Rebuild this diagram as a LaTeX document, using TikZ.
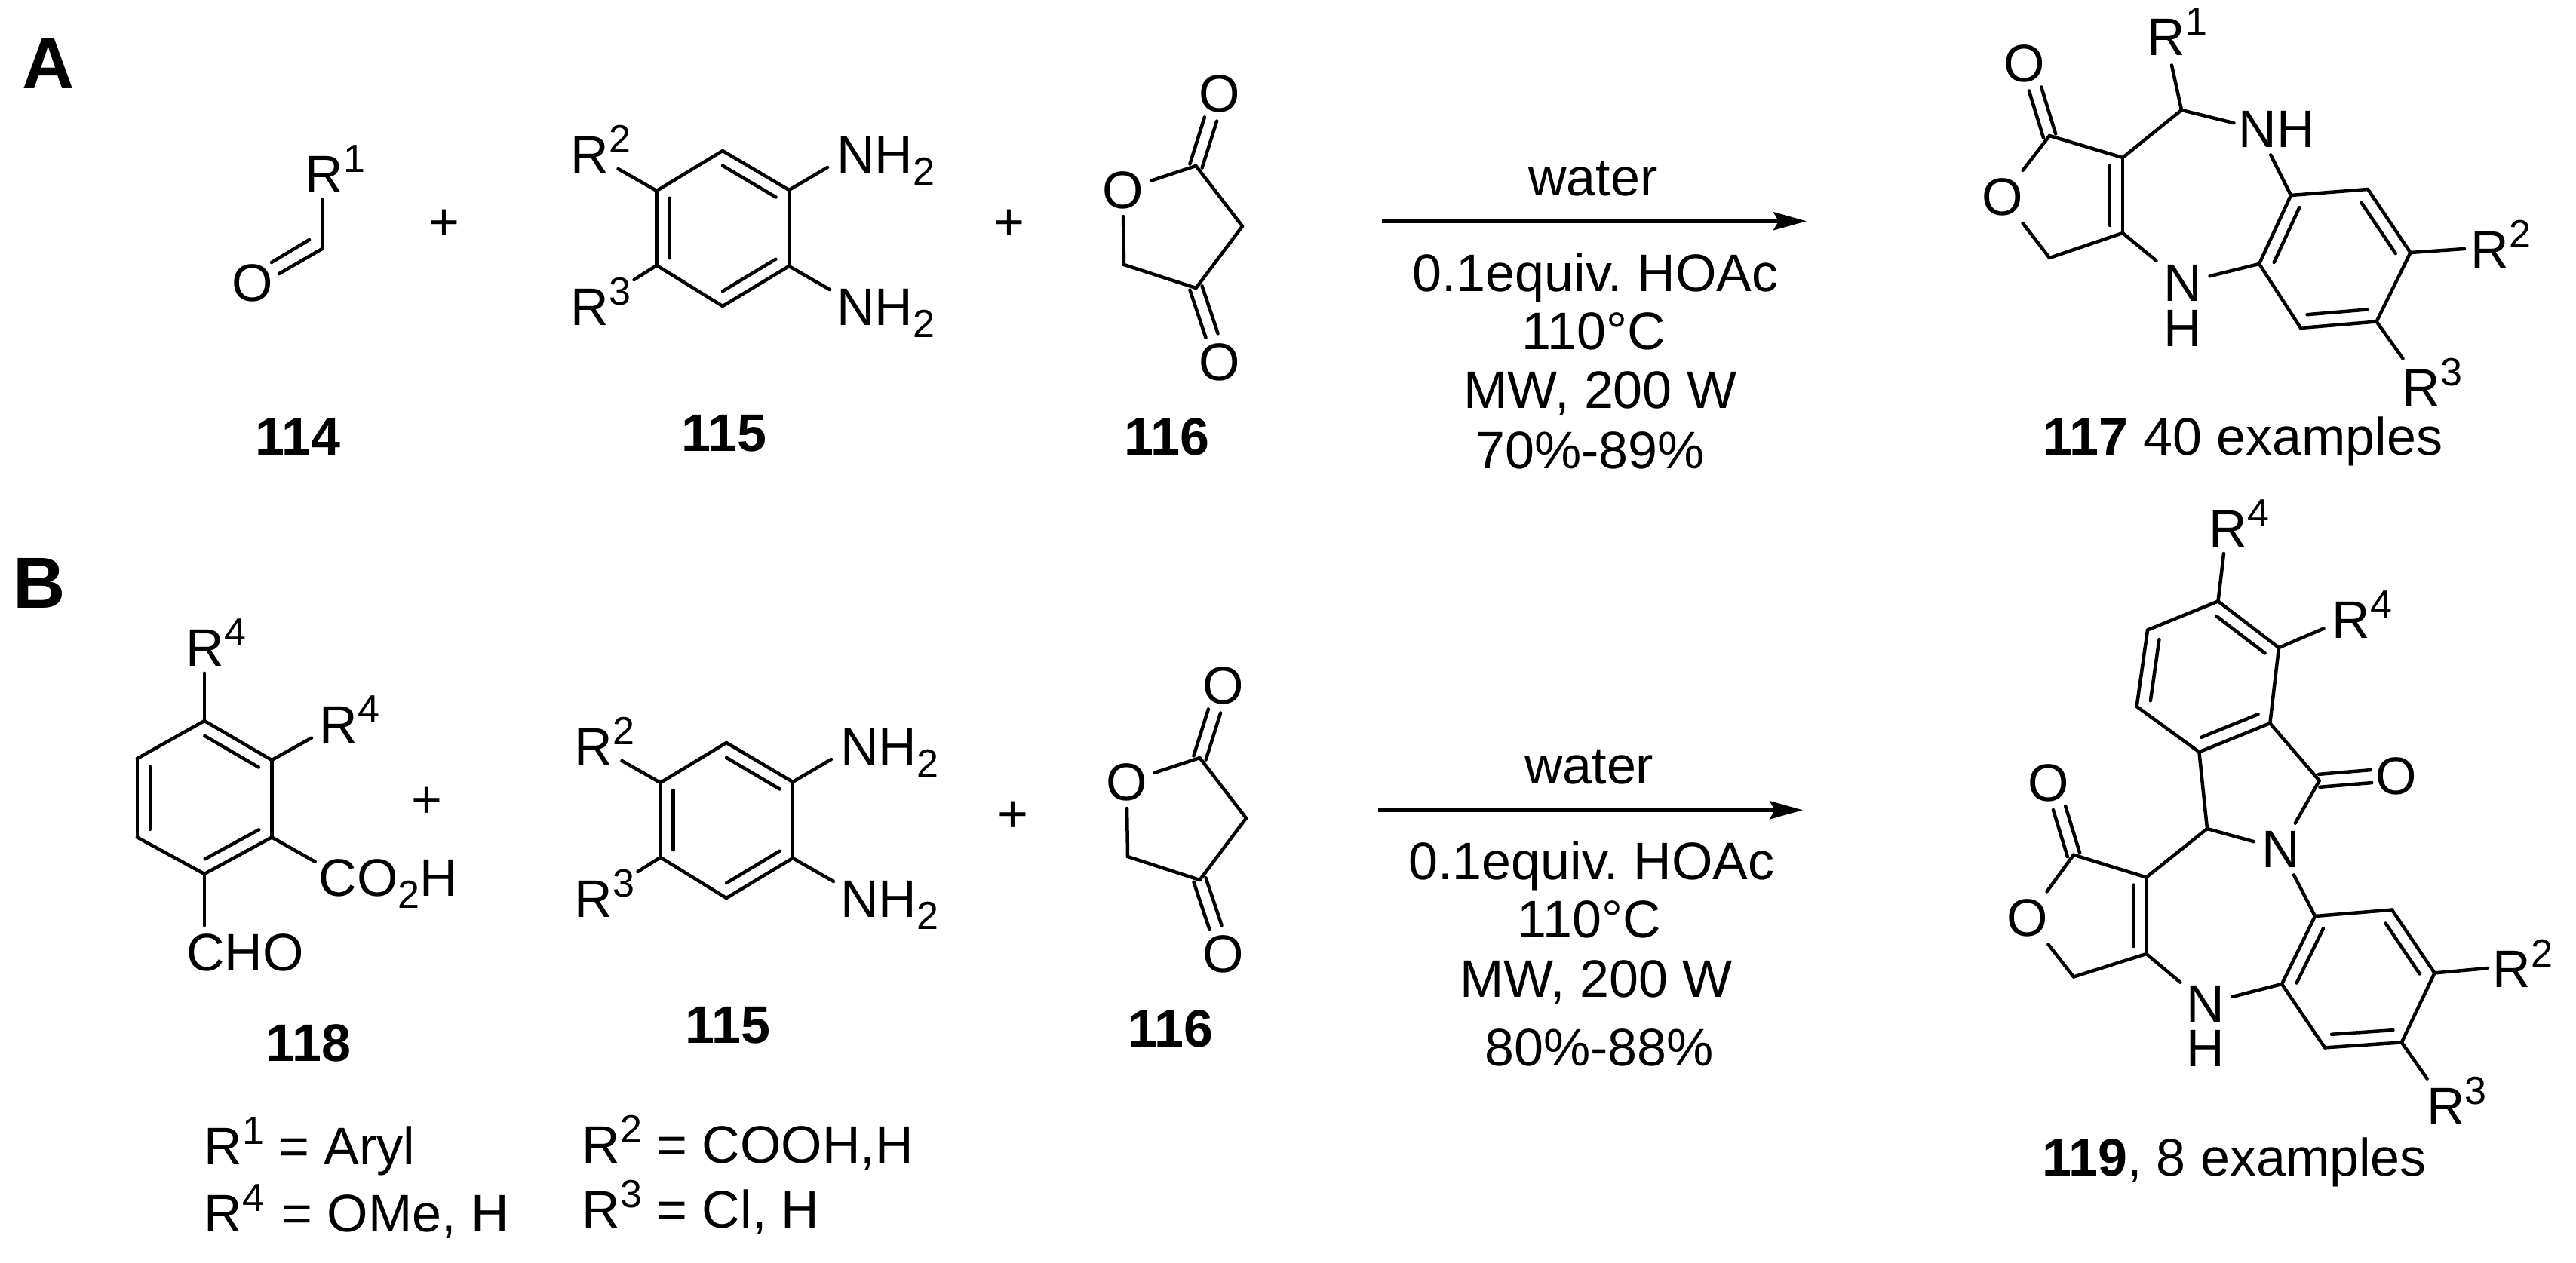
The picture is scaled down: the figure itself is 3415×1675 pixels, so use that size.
\documentclass[tikz,border=0pt]{standalone}
\usepackage{fontspec}
\setmainfont{Liberation Sans}
\usepackage{tikz}
\usetikzlibrary{arrows.meta,calc}
\frenchspacing
\def\supn#1{\raisebox{27pt}{\fontsize{52pt}{60pt}\selectfont #1}}
\def\subn#1{\raisebox{-16pt}{\fontsize{52pt}{60pt}\selectfont #1}}
\def\inbond#1#2{\draw ($(#1)!.1!(#2)!17pt!90:(#2)$) -- ($(#2)!.1!(#1)!-17pt!90:(#1)$);}
\def\dbo#1#2{\draw ($(#1)!8.5pt!90:(#2)$) -- ($(#2)!-8.5pt!90:(#1)$); \draw ($(#1)!-8.5pt!90:(#2)$) -- ($(#2)!8.5pt!90:(#1)$);}

\begin{document}
\begin{tikzpicture}[>={Stealth[width=24pt,length=44pt,inset=7pt]}, line width=4.5pt, line cap=round,
	txt/.style={inner sep=0pt, anchor=base west, font=\fontsize{70pt}{80pt}\selectfont},
	ctr/.style={txt, anchor=base},
	atom/.style={inner sep=8pt, anchor=center, font=\fontsize{70pt}{80pt}\selectfont},
	hatom/.style={atom, inner sep=0pt},
	panel/.style={inner sep=0pt, anchor=base west, font=\fontsize{96pt}{100pt}\selectfont\bfseries},
	rarrow/.style={->, line width=4.7pt, line cap=butt}]
		\useasboundingbox (0pt, 0pt) rectangle (3415pt, -1675pt);
		\draw (27.0pt, -118.0pt)node[panel](panelA){A};
		\draw (15.0pt, -806.0pt)node[panel](panelB){B};

		% 114
		\coordinate (ald1) at (427.0pt, -330.0pt);
		\coordinate (ald2) at (427.0pt, -264.0pt);
		\coordinate (ald3) at (370.0pt, -363.0pt);
		\coordinate (ald4) at (410.0pt, -318.0pt);
		\coordinate (ald5) at (360.0pt, -348.0pt);
		\draw (335.0pt, -375.0pt)node[atom](aldO){O};
		\draw (402.5pt, -255.0pt)node[txt](aldR){R\supn{1}};
		\draw (395.0pt, -603.0pt)node[ctr](n114){\bfseries 114};
		\draw (589.0pt, -298.0pt)node[hatom](plusA){+};
		\path (ald1) edge (ald2);
		\path (ald1) edge (ald3);
		\path (ald4) edge (ald5);

		% 115 and 116, the same in both rows
		\foreach \n/\sx/\sy in {A/0/0,B/5/785}{
		\begin{scope}[shift={(\sx pt,-\sy pt)}]
		\coordinate (\n dia1) at (870.5pt, -253.0pt);
		\coordinate (\n dia2) at (870.5pt, -352.0pt);
		\coordinate (\n dia3) at (958.0pt, -406.0pt);
		\coordinate (\n dia4) at (1046.0pt, -353.0pt);
		\coordinate (\n dia5) at (1046.0pt, -252.0pt);
		\coordinate (\n dia6) at (958.0pt, -200.0pt);
		\coordinate (\n dia7) at (819.5pt, -224.0pt);
		\coordinate (\n dia8) at (840.5pt, -371.0pt);
		\coordinate (\n dia9) at (1097.0pt, -222.0pt);
		\coordinate (\n dia10) at (1100.0pt, -384.0pt);
		\draw (754.5pt, -229.0pt)node[txt](\n diaR2){R\supn{2}};
		\draw (754.5pt, -431.0pt)node[txt](\n diaR3){R\supn{3}};
		\draw (1107.0pt, -229.0pt)node[txt](\n diaN1){NH\subn{2}};
		\draw (1107.0pt, -431.0pt)node[txt](\n diaN2){NH\subn{2}};
		\draw (960.0pt, -598.5pt)node[ctr](\n n115){\bfseries 115};
		\path (\n dia1) edge (\n dia2);
		\path (\n dia2) edge (\n dia3);
		\path (\n dia3) edge (\n dia4);
		\path (\n dia4) edge (\n dia5);
		\path (\n dia5) edge (\n dia6);
		\path (\n dia6) edge (\n dia1);
		\path (\n dia1) edge (\n dia7);
		\path (\n dia2) edge (\n dia8);
		\path (\n dia5) edge (\n dia9);
		\path (\n dia4) edge (\n dia10);
		\inbond{\n dia1}{\n dia2}
		\inbond{\n dia3}{\n dia4}
		\inbond{\n dia5}{\n dia6}

		\draw (1338.0pt, -298.0pt)node[hatom](\n plus){+};
		\coordinate (\n lac1) at (1585.5pt, -220.0pt);
		\coordinate (\n lac2) at (1647.0pt, -300.0pt);
		\coordinate (\n lac3) at (1585.5pt, -382.0pt);
		\coordinate (\n lac4) at (1490.0pt, -351.0pt);
		\coordinate (\n lac5) at (1605.0pt, -158.0pt);
		\coordinate (\n lac6) at (1606.5pt, -445.0pt);
		\draw (1488.5pt, -252.0pt)node[atom](\n lacO){O};
		\draw (1617.0pt, -124.5pt)node[hatom](\n lacO1){O};
		\draw (1617.0pt, -480.0pt)node[hatom](\n lacO2){O};
		\draw (1546.5pt, -603.0pt)node[ctr](\n n116){\bfseries 116};
		\path (\n lacO) edge (\n lac1);
		\path (\n lac1) edge (\n lac2);
		\path (\n lac2) edge (\n lac3);
		\path (\n lac3) edge (\n lac4);
		\path (\n lac4) edge (\n lacO);
		\dbo{\n lac1}{\n lac5}
		\dbo{\n lac3}{\n lac6}
		\end{scope}
		}

		% top arrow
		\coordinate (arrA0) at (1832.0pt, -293.3pt);
		\coordinate (arrA1) at (2395.0pt, -293.3pt);
		\path[rarrow] (arrA0) edge (arrA1);
		\draw (2112.0pt, -259.0pt)node[ctr](condA1){water};
		\draw (2115.0pt, -386.0pt)node[ctr](condA2){0.1equiv. HOAc};
		\draw (2113.0pt, -463.0pt)node[ctr](condA3){110°C};
		\draw (2121.5pt, -541.7pt)node[ctr](condA4){MW, 200 W};
		\draw (2108.0pt, -621.7pt)node[ctr](condA5){70\%-89\%};

		% 117
		\coordinate (pa1) at (2717.0pt, -180.0pt);
		\coordinate (pa2) at (2717.0pt, -342.0pt);
		\coordinate (pa3) at (2814.0pt, -309.0pt);
		\coordinate (pa4) at (2814.0pt, -209.0pt);
		\coordinate (pa5) at (2892.0pt, -146.0pt);
		\coordinate (pa6) at (2698.0pt, -118.0pt);
		\coordinate (pa7) at (2879.0pt, -86.5pt);
		\coordinate (pa8) at (3267.0pt, -330.0pt);
		\coordinate (pa9) at (3185.5pt, -475.5pt);
		\coordinate (ra1) at (3037.0pt, -259.0pt);
		\coordinate (ra2) at (2995.0pt, -350.0pt);
		\coordinate (ra3) at (3050.0pt, -435.0pt);
		\coordinate (ra4) at (3150.5pt, -426.5pt);
		\coordinate (ra5) at (3195.5pt, -335.0pt);
		\coordinate (ra6) at (3139.0pt, -251.0pt);
		\draw (2684.0pt, -84.0pt)node[hatom](paO1){O};
		\draw (2654.6pt, -261.0pt)node[atom](paO2){O};
		\draw (2993.0pt, -171.0pt)node[atom, inner xsep=4pt](paN1){N};
		\draw (3044.0pt, -171.0pt)node[hatom](paH1){H};
		\draw (2894.0pt, -375.0pt)node[atom](paN2){N};
		\draw (2894.0pt, -435.0pt)node[hatom](paH2){H};
		\draw (2844.5pt, -74.0pt)node[txt](paR1){R\supn{1}};
		\draw (3273.5pt, -355.0pt)node[txt](paR2){R\supn{2}};
		\draw (3182.5pt, -538.0pt)node[txt](paR3){R\supn{3}};
		\draw (2973.5pt, -603.0pt)node[ctr](n117){{\bfseries 117} 40 examples};
		\path (paO2) edge (pa1);
		\path (pa1) edge (pa4);
		\path (pa4) edge (pa3);
		\path (pa3) edge (pa2);
		\path (pa2) edge (paO2);
		\path (pa4) edge (pa5);
		\path (pa5) edge (pa7);
		\path (pa5) edge (paN1);
		\path (paN1) edge (ra1);
		\path (pa3) edge (paN2);
		\path (paN2) edge (ra2);
		\path (ra1) edge (ra2);
		\path (ra2) edge (ra3);
		\path (ra3) edge (ra4);
		\path (ra4) edge (ra5);
		\path (ra5) edge (ra6);
		\path (ra6) edge (ra1);
		\path (ra5) edge (pa8);
		\path (ra4) edge (pa9);
		\dbo{pa1}{pa6}
		\inbond{pa3}{pa4}
		\inbond{ra1}{ra2}
		\inbond{ra3}{ra4}
		\inbond{ra5}{ra6}

		% 118
		\coordinate (cho1) at (271.0pt, -956.0pt);
		\coordinate (cho2) at (181.8pt, -1006.0pt);
		\coordinate (cho3) at (181.8pt, -1110.4pt);
		\coordinate (cho4) at (271.0pt, -1159.0pt);
		\coordinate (cho5) at (360.3pt, -1110.4pt);
		\coordinate (cho6) at (360.3pt, -1008.0pt);
		\coordinate (cho7) at (271.0pt, -892.8pt);
		\coordinate (cho8) at (413.0pt, -978.6pt);
		\coordinate (cho9) at (417.7pt, -1142.8pt);
		\coordinate (cho10) at (271.0pt, -1227.4pt);
		\draw (244.5pt, -883.5pt)node[txt](choR1){R\supn{4}};
		\draw (421.5pt, -985.0pt)node[txt](choR2){R\supn{4}};
		\draw (420.5pt, -1188.0pt)node[txt](choCO){CO\subn{2}H};
		\draw (245.0pt, -1287.7pt)node[txt](choCHO){CHO};
		\draw (409.0pt, -1407.0pt)node[ctr](n118){\bfseries 118};
		\draw (566.0pt, -1063.8pt)node[hatom](plusB){+};
		\path (cho1) edge (cho2);
		\path (cho2) edge (cho3);
		\path (cho3) edge (cho4);
		\path (cho4) edge (cho5);
		\path (cho5) edge (cho6);
		\path (cho6) edge (cho1);
		\path (cho1) edge (cho7);
		\path (cho6) edge (cho8);
		\path (cho5) edge (cho9);
		\path (cho4) edge (cho10);
		\inbond{cho2}{cho3}
		\inbond{cho4}{cho5}
		\inbond{cho6}{cho1}
		\draw (268.5pt, -1544.5pt)node[txt](defR1){R\supn{1} = Aryl};
		\draw (268.5pt, -1633.0pt)node[txt](defR4){R\supn{4}\hspace{4pt} = OMe, H};
		\draw (769.5pt, -1542.7pt)node[txt](defR2){R\supn{2} = COOH,H};
		\draw (769.5pt, -1628.3pt)node[txt](defR3){R\supn{3} = Cl, H};

		% bottom arrow
		\coordinate (arrB0) at (1826.5pt, -1074.3pt);
		\coordinate (arrB1) at (2390.0pt, -1074.3pt);
		\path[rarrow] (arrB0) edge (arrB1);
		\draw (2106.7pt, -1039.0pt)node[ctr](condB1){water};
		\draw (2110.0pt, -1166.7pt)node[ctr](condB2){0.1equiv. HOAc};
		\draw (2106.7pt, -1243.0pt)node[ctr](condB3){110°C};
		\draw (2116.0pt, -1322.0pt)node[ctr](condB4){MW, 200 W};
		\draw (2120.0pt, -1413.0pt)node[ctr](condB5){80\%-88\%};

		% 119
		\coordinate (pb1) at (2749.0pt, -1133.7pt);
		\coordinate (pb2) at (2749.0pt, -1295.5pt);
		\coordinate (pb3) at (2845.4pt, -1265.0pt);
		\coordinate (pb4) at (2845.4pt, -1163.5pt);
		\coordinate (pb5) at (2926.0pt, -1099.0pt);
		\coordinate (pb6) at (3074.7pt, -1035.3pt);
		\coordinate (pb7) at (2730.0pt, -1071.5pt);
		\coordinate (pb8) at (3143.5pt, -1029.6pt);
		\coordinate (pb9) at (2948.0pt, -734.0pt);
		\coordinate (pb10) at (3080.5pt, -833.5pt);
		\coordinate (pb11) at (3298.0pt, -1284.0pt);
		\coordinate (pb12) at (3217.6pt, -1430.6pt);
		\coordinate (rb1) at (2940.5pt, -797.4pt);
		\coordinate (rb2) at (2847.0pt, -835.5pt);
		\coordinate (rb3) at (2832.6pt, -937.0pt);
		\coordinate (rb4) at (2915.4pt, -997.3pt);
		\coordinate (rb5) at (3009.3pt, -959.2pt);
		\coordinate (rb6) at (3021.0pt, -859.0pt);
		\coordinate (rc1) at (3069.0pt, -1215.0pt);
		\coordinate (rc2) at (3025.0pt, -1305.0pt);
		\coordinate (rc3) at (3082.0pt, -1389.4pt);
		\coordinate (rc4) at (3183.8pt, -1382.4pt);
		\coordinate (rc5) at (3227.5pt, -1290.4pt);
		\coordinate (rc6) at (3171.0pt, -1206.6pt);
		\draw (2716.0pt, -1038.5pt)node[hatom](pbO1){O};
		\draw (2688.0pt, -1217.4pt)node[atom](pbO2){O};
		\draw (3176.8pt, -1029.0pt)node[hatom](pbO3){O};
		\draw (3023.3pt, -1126.0pt)node[atom](pbN1){N};
		\draw (2924.0pt, -1331.0pt)node[atom, inner ysep=2pt](pbN2){N};
		\draw (2924.0pt, -1390.0pt)node[hatom](pbH){H};
		\draw (2926.5pt, -725.7pt)node[txt](pbR1){R\supn{4}};
		\draw (3089.5pt, -846.0pt)node[txt](pbR2){R\supn{4}};
		\draw (3302.5pt, -1309.4pt)node[txt](pbR3){R\supn{2}};
		\draw (3215.0pt, -1491.0pt)node[txt](pbR4){R\supn{3}};
		\draw (2962.0pt, -1559.0pt)node[ctr](n119){{\bfseries 119}, 8 examples};
		\path (pbO2) edge (pb1);
		\path (pb1) edge (pb4);
		\path (pb4) edge (pb3);
		\path (pb3) edge (pb2);
		\path (pb2) edge (pbO2);
		\path (pb4) edge (pb5);
		\path (pb5) edge (pbN1);
		\path (pb5) edge (rb4);
		\path (rb5) edge (pb6);
		\path (pb6) edge (pbN1);
		\path (pbN1) edge (rc1);
		\path (pb3) edge (pbN2);
		\path (pbN2) edge (rc2);
		\path (rb1) edge (rb2);
		\path (rb2) edge (rb3);
		\path (rb3) edge (rb4);
		\path (rb4) edge (rb5);
		\path (rb5) edge (rb6);
		\path (rb6) edge (rb1);
		\path (rb1) edge (pb9);
		\path (rb6) edge (pb10);
		\path (rc1) edge (rc2);
		\path (rc2) edge (rc3);
		\path (rc3) edge (rc4);
		\path (rc4) edge (rc5);
		\path (rc5) edge (rc6);
		\path (rc6) edge (rc1);
		\path (rc5) edge (pb11);
		\path (rc4) edge (pb12);
		\dbo{pb1}{pb7}
		\dbo{pb6}{pb8}
		\inbond{pb3}{pb4}
		\inbond{rb6}{rb1}
		\inbond{rb2}{rb3}
		\inbond{rb4}{rb5}
		\inbond{rc1}{rc2}
		\inbond{rc3}{rc4}
		\inbond{rc5}{rc6}
\end{tikzpicture}
\end{document}
